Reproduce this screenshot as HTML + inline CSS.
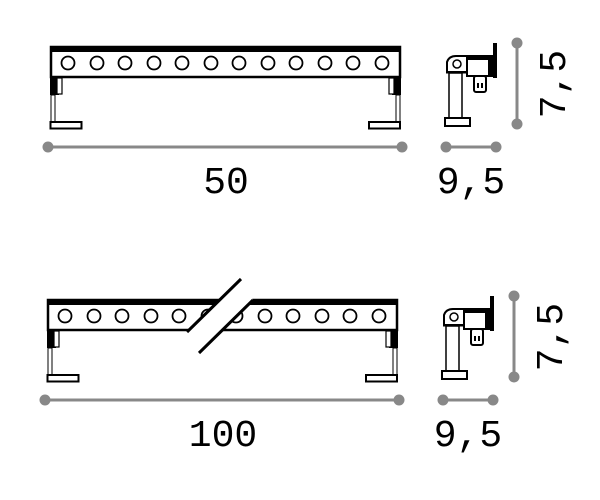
<!DOCTYPE html>
<html><head><style>body{margin:0;background:#fff}svg{display:block}</style></head><body>
<svg width="600" height="500" xmlns="http://www.w3.org/2000/svg">
<defs>
<g id="side">
  <rect x="493" y="43" width="4" height="35" fill="#000"/>
  <rect x="467" y="56" width="27" height="20" fill="#fff" stroke="#000" stroke-width="2"/>
  <rect x="467" y="56" width="27" height="4" fill="#000"/>
  <rect x="488" y="60" width="5" height="16" fill="#000"/>
  <path d="M447 72 L447 62 Q449 56 456 56 L467 56 L467 72 Z" fill="#fff" stroke="#000" stroke-width="2"/>
  <circle cx="457" cy="64" r="4" fill="none" stroke="#000" stroke-width="1.5"/>
  <rect x="446" y="71" width="22" height="2.5" fill="#000"/>
  <rect x="449" y="73" width="13" height="45" fill="#fff" stroke="#000" stroke-width="1.5"/>
  <rect x="445" y="118" width="25" height="8" fill="#fff" stroke="#000" stroke-width="2"/>
  <rect x="474" y="76" width="12" height="16" rx="2" fill="#fff" stroke="#000" stroke-width="2"/>
  <rect x="477" y="83" width="2" height="5" fill="#000"/><rect x="481" y="83" width="2" height="5" fill="#000"/>
  <line x1="517" y1="43" x2="517" y2="124" stroke="#888" stroke-width="3"/>
  <circle cx="517" cy="43" r="5.5" fill="#888"/><circle cx="517" cy="124" r="5.5" fill="#888"/>
  <line x1="446" y1="147" x2="496" y2="147" stroke="#888" stroke-width="3"/>
  <circle cx="446" cy="147" r="5.5" fill="#888"/><circle cx="496" cy="147" r="5.5" fill="#888"/>
  <text x="471" y="193" font-family="Liberation Mono, monospace" font-size="38" text-anchor="middle">9,5</text>
  <text transform="translate(565,84) rotate(-90)" font-family="Liberation Mono, monospace" font-size="38" text-anchor="middle">7,5</text>
</g>
</defs>

<!-- top bar -->
<rect x="51" y="47" width="349" height="30" fill="#fff" stroke="#000" stroke-width="2.5"/>
<rect x="50" y="46" width="351" height="6" fill="#000"/>
<g fill="none" stroke="#000" stroke-width="1.8">
<circle cx="68" cy="63" r="6.5"/><circle cx="97" cy="63" r="6.5"/><circle cx="125" cy="63" r="6.5"/><circle cx="154" cy="63" r="6.5"/><circle cx="182" cy="63" r="6.5"/><circle cx="211" cy="63" r="6.5"/><circle cx="239" cy="63" r="6.5"/><circle cx="268" cy="63" r="6.5"/><circle cx="296" cy="63" r="6.5"/><circle cx="325" cy="63" r="6.5"/><circle cx="353" cy="63" r="6.5"/><circle cx="382" cy="63" r="6.5"/>
</g>
<rect x="50" y="77" width="9" height="18" fill="#000"/><rect x="57" y="78" width="5" height="16" fill="#fff" stroke="#000" stroke-width="1.2"/>
<rect x="51" y="95" width="4" height="27" fill="#fff" stroke="#000" stroke-width="1"/>
<rect x="50.5" y="122" width="31" height="6.5" fill="#fff" stroke="#000" stroke-width="2"/>
<rect x="392" y="77" width="9" height="18" fill="#000"/><rect x="389" y="78" width="5" height="16" fill="#fff" stroke="#000" stroke-width="1.2"/>
<rect x="396" y="95" width="4" height="27" fill="#fff" stroke="#000" stroke-width="1"/>
<rect x="369" y="122" width="31" height="6.5" fill="#fff" stroke="#000" stroke-width="2"/>
<line x1="48" y1="147" x2="402" y2="147" stroke="#888" stroke-width="3"/>
<circle cx="48" cy="147" r="5.5" fill="#888"/><circle cx="402" cy="147" r="5.5" fill="#888"/>
<text x="226" y="193" font-family="Liberation Mono, monospace" font-size="38" text-anchor="middle">50</text>
<use href="#side"/>

<!-- bottom bar -->
<g transform="translate(-3,253)">
<rect x="51" y="47" width="349" height="30" fill="#fff" stroke="#000" stroke-width="2.5"/>
<rect x="50" y="46" width="351" height="6" fill="#000"/>
<g fill="none" stroke="#000" stroke-width="1.8">
<circle cx="68" cy="63" r="6.5"/><circle cx="97" cy="63" r="6.5"/><circle cx="125" cy="63" r="6.5"/><circle cx="154" cy="63" r="6.5"/><circle cx="182" cy="63" r="6.5"/><circle cx="211" cy="63" r="6.5"/><circle cx="239" cy="63" r="6.5"/><circle cx="268" cy="63" r="6.5"/><circle cx="296" cy="63" r="6.5"/><circle cx="325" cy="63" r="6.5"/><circle cx="353" cy="63" r="6.5"/><circle cx="382" cy="63" r="6.5"/>
</g>
<rect x="50" y="77" width="9" height="18" fill="#000"/><rect x="57" y="78" width="5" height="16" fill="#fff" stroke="#000" stroke-width="1.2"/>
<rect x="51" y="95" width="4" height="27" fill="#fff" stroke="#000" stroke-width="1"/>
<rect x="50.5" y="122" width="31" height="6.5" fill="#fff" stroke="#000" stroke-width="2"/>
<rect x="392" y="77" width="9" height="18" fill="#000"/><rect x="389" y="78" width="5" height="16" fill="#fff" stroke="#000" stroke-width="1.2"/>
<rect x="396" y="95" width="4" height="27" fill="#fff" stroke="#000" stroke-width="1"/>
<rect x="369" y="122" width="31" height="6.5" fill="#fff" stroke="#000" stroke-width="2"/>
<line x1="48" y1="147" x2="402" y2="147" stroke="#888" stroke-width="3"/>
<circle cx="48" cy="147" r="5.5" fill="#888"/><circle cx="402" cy="147" r="5.5" fill="#888"/>
<text x="226" y="193" font-family="Liberation Mono, monospace" font-size="38" text-anchor="middle">100</text>
</g>
<polygon points="241,279 253,300 199,353 187,332" fill="#fff"/>
<line x1="241" y1="279" x2="187" y2="332" stroke="#000" stroke-width="3"/>
<line x1="253" y1="300" x2="199" y2="353" stroke="#000" stroke-width="3"/>
<use href="#side" transform="translate(-3,253)"/>
</svg>
</body></html>
